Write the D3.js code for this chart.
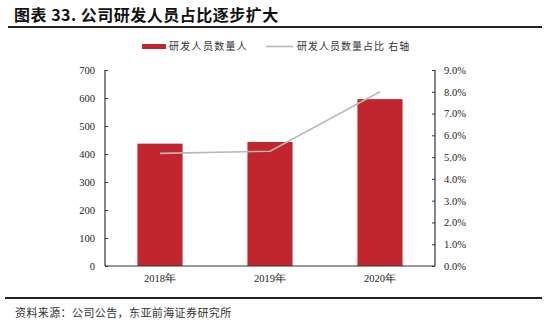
<!DOCTYPE html>
<html>
<head>
<meta charset="utf-8">
<script src="https://cdn.jsdelivr.net/npm/d3@7"></script>
<style>
  html, body { margin: 0; padding: 0; background: #fff; }
  svg { display: block; }
</style>
</head>
<body>
<svg id="chart" width="550" height="327"></svg>
<script>
// R&D headcount and its share of total staff
const years = ["2018年", "2019年", "2020年"];
const staffCount = [437, 443, 596];
const staffShare = [5.17, 5.27, 8.0];
const leftTicks = [0, 100, 200, 300, 400, 500, 600, 700];
const rightTicks = [0, 1, 2, 3, 4, 5, 6, 7, 8, 9];

const svg = d3.select("#chart");
const cjk = "'Noto Sans CJK SC', sans-serif";
const serif = "'Liberation Serif', 'Times New Roman', serif";
const barColor = "#C1252D";
const lineColor = "#B8B8B8";

const plot = { left: 105, right: 435, top: 70, bottom: 266 };

// Title and rules
svg.append("text")
  .attr("x", 14).attr("y", 21)
  .attr("font-family", cjk).attr("font-size", 16).attr("font-weight", "bold")
  .attr("letter-spacing", 0.5)
  .attr("fill", "#111")
  .text("图表 33. 公司研发人员占比逐步扩大");
svg.append("line")
  .attr("x1", 8).attr("x2", 542).attr("y1", 27).attr("y2", 27)
  .attr("stroke", "#222").attr("stroke-width", 2);
svg.append("line")
  .attr("x1", 5).attr("x2", 542).attr("y1", 298).attr("y2", 298)
  .attr("stroke", "#222").attr("stroke-width", 2);
svg.append("text")
  .attr("x", 15).attr("y", 317)
  .attr("font-family", cjk).attr("font-size", 11).attr("letter-spacing", 0.4)
  .attr("fill", "#333")
  .text("资料来源：公司公告，东亚前海证券研究所");

// Scales
const x = d3.scaleBand().domain(years).range([plot.left, plot.right]).paddingInner(0.59).paddingOuter(0.295);
const yL = d3.scaleLinear().domain([0, 700]).range([plot.bottom, plot.top]);
const yR = d3.scaleLinear().domain([0, 9]).range([plot.bottom, plot.top]);

// Bars
svg.append("g").selectAll("rect")
  .data(years)
  .join("rect")
  .attr("x", d => x(d))
  .attr("width", x.bandwidth())
  .attr("y", (d, i) => yL(staffCount[i]))
  .attr("height", (d, i) => yL(0) - yL(staffCount[i]))
  .attr("fill", barColor);

// Share line on the right axis
const line = d3.line()
  .x((d, i) => x(years[i]) + x.bandwidth() / 2)
  .y(d => yR(d));
svg.append("path")
  .datum(staffShare)
  .attr("d", line)
  .attr("fill", "none")
  .attr("stroke", lineColor)
  .attr("stroke-width", 1.6);

// Axes
const axisColor = "#333";
const leftAxis = svg.append("g")
  .attr("transform", `translate(${plot.left},0)`)
  .call(d3.axisLeft(yL).tickValues(leftTicks).tickSize(-3).tickPadding(10).tickFormat(d3.format("d")));
const rightAxis = svg.append("g")
  .attr("transform", `translate(${plot.right},0)`)
  .call(d3.axisRight(yR).tickValues(rightTicks).tickSize(-3).tickPadding(9).tickFormat(d => d.toFixed(1) + "%"));
const bottomAxis = svg.append("g")
  .attr("transform", `translate(0,${plot.bottom})`)
  .call(d3.axisBottom(x).tickSize(0).tickPadding(9));

[leftAxis, rightAxis, bottomAxis].forEach(g => {
  g.select(".domain").attr("stroke", axisColor).attr("stroke-width", 1.2);
  g.selectAll(".tick line").attr("stroke", axisColor);
  g.selectAll("text").attr("font-family", serif).attr("font-size", 10.5).attr("fill", "#222");
});
leftAxis.select(".domain").attr("d", `M0,${plot.top}V${plot.bottom}`);
rightAxis.select(".domain").attr("d", `M0,${plot.top}V${plot.bottom}`);
bottomAxis.select(".domain").attr("d", `M${plot.left},0H${plot.right}`);

// Legend
const legend = svg.append("g").attr("font-family", cjk).attr("font-size", 10).attr("fill", "#333");
legend.append("rect").attr("x", 142).attr("y", 44).attr("width", 24).attr("height", 5).attr("fill", barColor);
legend.append("text").attr("x", 169).attr("y", 50).attr("letter-spacing", 1.3).text("研发人员数量人");
legend.append("line").attr("x1", 266).attr("x2", 293).attr("y1", 46.5).attr("y2", 46.5)
  .attr("stroke", lineColor).attr("stroke-width", 1.6);
legend.append("text").attr("x", 297).attr("y", 50).attr("letter-spacing", 1).text("研发人员数量占比 右轴");
</script>
</body>
</html>
